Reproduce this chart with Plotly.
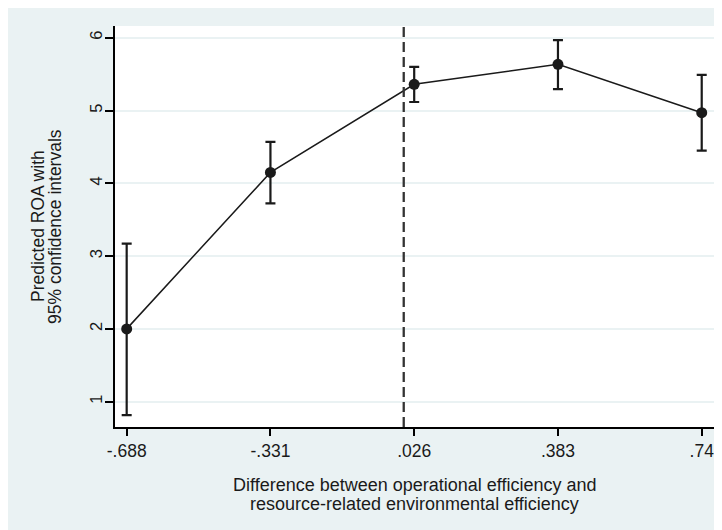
import plotly.graph_objects as go

# ---- data ----
x_vals = [-0.688, -0.331, 0.026, 0.383, 0.74]
x_tick_labels = ["-.688", "-.331", ".026", ".383", ".74"]
roa_pred = [2.00, 4.15, 5.36, 5.635, 4.97]
ci_upper = [3.17, 4.57, 5.60, 5.968, 5.49]
ci_lower = [0.815, 3.725, 5.117, 5.295, 4.448]
y_ticks = [1, 2, 3, 4, 5, 6]
ref_x = 0.0

x_title_lines = ["Difference between operational efficiency and",
                 "resource-related environmental efficiency"]
y_title_lines = ["Predicted ROA with", "95% confidence intervals"]

# ---- style ----
W, H = 714, 522
ML, MR, MT, MB = 107, 8, 18, 103
BG = "#EAF2F3"
FONT = "Liberation Sans, Arial, Helvetica, sans-serif"
PW, PH = W - ML - MR, H - MT - MB

err_plus = [u - v for u, v in zip(ci_upper, roa_pred)]
err_minus = [v - l for v, l in zip(roa_pred, ci_lower)]

fig = go.Figure()
fig.add_trace(go.Scatter(
    x=x_vals, y=roa_pred, mode="lines+markers",
    line=dict(color="#1a1a1a", width=1.5),
    marker=dict(color="#1a1a1a", size=11),
    error_y=dict(type="data", symmetric=False, array=err_plus, arrayminus=err_minus,
                 color="#1a1a1a", thickness=2.2, width=5),
    showlegend=False, hoverinfo="x+y",
))

fig.add_shape(type="line", xref="x", yref="paper", x0=ref_x, x1=ref_x, y0=0, y1=1,
              line=dict(color="#333333", width=2.3, dash="10px,5px"), layer="above")

for i, t in enumerate(x_title_lines):
    fig.add_annotation(text=t, xref="paper", yref="paper", x=0.5,
                       y=-(477 + 19 * i - MT - PH) / PH,
                       showarrow=False, xanchor="center", yanchor="middle",
                       font=dict(family=FONT, size=18, color="#1a1a1a"))
for i, t in enumerate(y_title_lines):
    fig.add_annotation(text=t, xref="paper", yref="paper",
                       x=-(ML - (29.5 + 17 * i)) / PW, y=0.5,
                       textangle=-90, showarrow=False, xanchor="center", yanchor="middle",
                       font=dict(family=FONT, size=17.5, color="#1a1a1a"))

fig.update_layout(
    width=W, height=H,
    margin=dict(l=ML, r=MR, t=MT, b=MB, pad=0),
    paper_bgcolor=BG, plot_bgcolor="white",
    font=dict(family=FONT, size=17, color="#1a1a1a"),
    xaxis=dict(range=[-0.717, 0.7705], tickvals=x_vals, ticktext=x_tick_labels,
               showgrid=False, zeroline=False, showline=True, linecolor="black",
               linewidth=2, ticks="outside", ticklen=7, tickwidth=2, tickcolor="black",
               tickfont=dict(size=17.5)),
    yaxis=dict(range=[0.652, 6.161], tickvals=y_ticks, showgrid=True, gridcolor=BG,
               gridwidth=2, zeroline=False, showline=True, linecolor="black",
               linewidth=2, ticks="outside", ticklen=8, tickwidth=2, tickcolor="black",
               tickangle=-90, tickfont=dict(size=16.5), ticklabelstandoff=-4),
)

fig.write_html("out.html")
